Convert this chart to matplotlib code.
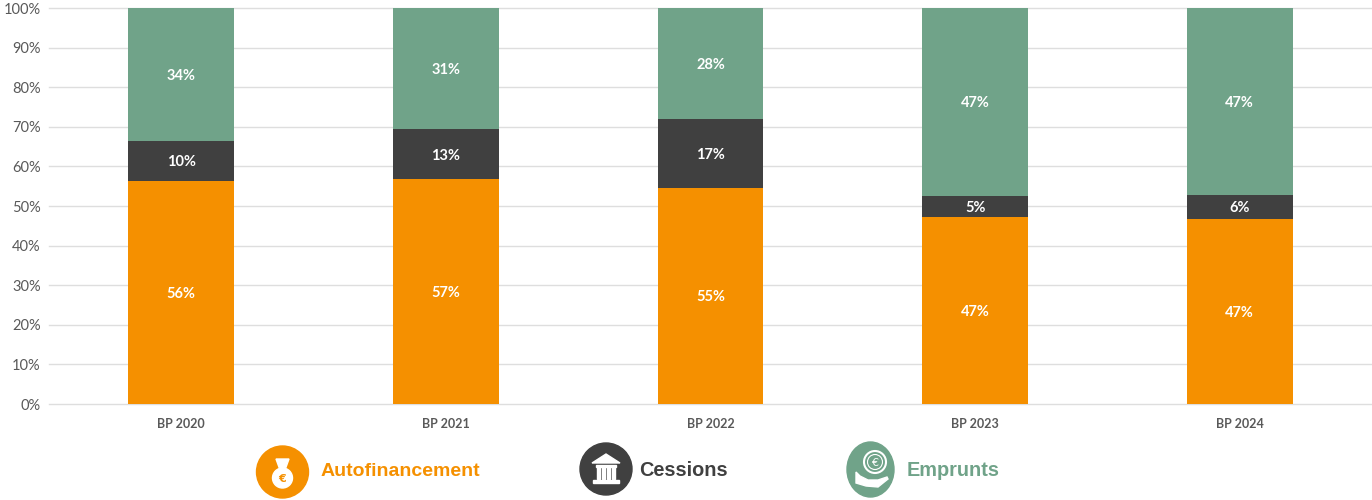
import matplotlib
matplotlib.use("Agg")
import matplotlib.pyplot as plt
from matplotlib.patches import Circle, Ellipse, Polygon, Rectangle

categories = ['BP 2020', 'BP 2021', 'BP 2022', 'BP 2023', 'BP 2024']
autofinancement = [56.4, 56.8, 54.5, 47.2, 46.7]
cessions = [9.9, 12.6, 17.5, 5.3, 6.1]
emprunts = [33.7, 30.6, 28.0, 47.5, 47.2]
auto_labels = ['56%', '57%', '55%', '47%', '47%']
cess_labels = ['10%', '13%', '17%', '5%', '6%']
empr_labels = ['34%', '31%', '28%', '47%', '47%']
yticks = [0, 10, 20, 30, 40, 50, 60, 70, 80, 90, 100]

ORANGE = '#F59000'
DARK = '#404040'
GREEN = '#70A389'

fig = plt.figure(figsize=(13.72, 5), dpi=100)
ax = fig.add_axes([49 / 1372, 96 / 500, 1323 / 1372, 396 / 500])

x = list(range(len(categories)))
bottom2 = [a for a in autofinancement]
bottom3 = [a + c for a, c in zip(autofinancement, cessions)]

b1 = ax.bar(x, autofinancement, width=0.4, color=ORANGE, zorder=3)
b2 = ax.bar(x, cessions, width=0.4, bottom=bottom2, color=DARK, zorder=3)
b3 = ax.bar(x, emprunts, width=0.4, bottom=bottom3, color=GREEN, zorder=3)

for bars, labels in [(b1, auto_labels), (b2, cess_labels), (b3, empr_labels)]:
    anns = ax.bar_label(bars, labels=labels, label_type='center', color='white',
                        fontsize=10.5, fontweight='bold', family='Lato', zorder=4)
    # labels sit a bit lower than the true centre
    for ann in anns:
        ann.xyann = (0, -1)

ax.set_xlim(-0.5, 4.5)
ax.set_ylim(0, 100)
ax.set_yticks(yticks)
ax.set_yticklabels([f'{t}%' for t in yticks], fontsize=10.5, color='#595959', family='Lato')
ax.set_xticks(x)
ax.set_xticklabels(categories, fontsize=9, fontweight='bold', color='#595959', family='Lato')
ax.tick_params(axis='both', length=0)
ax.tick_params(axis='x', pad=10)
ax.tick_params(axis='y', pad=6)
ax.grid(axis='y', color='#DEDEDE', linewidth=1, zorder=0)
ax.set_axisbelow(True)
# keep the 0% and 100% lines at full thickness
for line in ax.get_ygridlines():
    line.set_clip_on(False)
for s in ax.spines.values():
    s.set_visible(False)

# legend with icons, in pixel coords
lg = fig.add_axes([0, 0, 1, 1], facecolor='none')
lg.set_xlim(0, 1372)
lg.set_ylim(500, 0)
lg.axis('off')

# money bag
lg.add_patch(Circle((282.5, 472), 26, color=ORANGE))
lg.add_patch(Ellipse((282.5, 478), 20, 20, color='white'))
lg.add_patch(Polygon([(276, 459), (289, 459), (285, 470), (280, 470)], color='white'))
lg.text(282, 478.5, '€', color=ORANGE, fontsize=8, fontweight='bold', ha='center', va='center')

# bank
lg.add_patch(Circle((606, 469), 26, color=DARK))
lg.add_patch(Polygon([(592, 463), (606, 454), (620, 463)], color='white'))
lg.add_patch(Rectangle((593, 480), 26, 3, color='white'))
lg.add_patch(Rectangle((596, 465), 20, 2, color='white'))
for cx in [597, 602, 607, 612]:
    lg.add_patch(Rectangle((cx, 467), 3, 12, color='white'))

# hand with coin
lg.add_patch(Ellipse((870.5, 469.5), 47, 55, color=GREEN))
lg.add_patch(Circle((875, 462), 11, facecolor='none', edgecolor='white', linewidth=1.5))
lg.add_patch(Circle((875, 462), 7.5, facecolor='none', edgecolor='white', linewidth=0.8))
lg.text(875, 462.5, '€', color='white', fontsize=8, ha='center', va='center')
lg.add_patch(Polygon([(856, 472), (860, 476), (868, 480), (878, 480), (887, 477),
                      (888, 479), (878, 487), (866, 486), (856, 483)], color='white'))

lg.text(321, 472, 'Autofinancement', color=ORANGE, fontsize=14, fontweight='bold',
        family='Liberation Sans', ha='left', va='center')
lg.text(639, 470, 'Cessions', color=DARK, fontsize=14.3, fontweight='bold',
        family='Liberation Sans', ha='left', va='center')
lg.text(907, 471, 'Emprunts', color=GREEN, fontsize=14.3, fontweight='bold',
        family='Liberation Sans', ha='left', va='center')

fig.savefig('out.png', dpi=100)
plt.close()
